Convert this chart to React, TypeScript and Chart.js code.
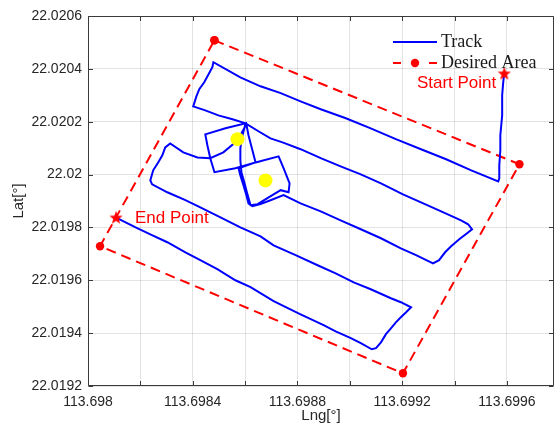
import React, { useEffect, useRef } from 'react';
import { Chart, registerables } from 'chart.js';

Chart.register(...registerables);

// ---- data (degrees) ----
const trackLng = [
  113.699590, 113.699586, 113.699582, 113.699582, 113.699575, 113.699575, 113.699571, 113.699571, 113.699567,
  113.699464, 113.699368, 113.699272, 113.699176, 113.699080, 113.698985, 113.698889, 113.698812, 113.698736, 113.698659, 113.698582, 113.698479,
  113.698475, 113.698460, 113.698444, 113.698425, 113.698414, 113.698402,
  113.698448, 113.698498, 113.698552, 113.698602, 113.698651, 113.698697, 113.698743, 113.698812, 113.698889, 113.698965, 113.699042, 113.699119, 113.699203, 113.699272, 113.699349, 113.699425, 113.699452, 113.699467,
  113.699448, 113.699418, 113.699387, 113.699364, 113.699341, 113.699318,
  113.699253, 113.699195, 113.699119, 113.699042, 113.698965, 113.698889, 113.698812, 113.698747,
  113.698697, 113.698659, 113.698628, 113.698613,
  113.698605, 113.698594, 113.698582, 113.698575,
  113.698640, 113.698728,
  113.698747, 113.698770, 113.698766, 113.698736, 113.698690, 113.698648, 113.698621,
  113.698609, 113.698598, 113.698586, 113.698582, 113.698582, 113.698586,
  113.698594, 113.698602,
  113.698525, 113.698448, 113.698456, 113.698467, 113.698483, 113.698563, 113.698640,
  113.698628, 113.698613, 113.698605,
  113.698582, 113.698563,
  113.698517, 113.698467, 113.698418, 113.698364, 113.698314,
  113.698295, 113.698284, 113.698268, 113.698249, 113.698238, 113.698245,
  113.698303, 113.698372, 113.698429, 113.698506, 113.698582, 113.698659, 113.698709, 113.698793, 113.698877, 113.698946, 113.699015, 113.699080, 113.699157, 113.699195, 113.699234,
  113.699215, 113.699195, 113.699176, 113.699157, 113.699138, 113.699119, 113.699100, 113.699084,
  113.699042, 113.699004, 113.698946, 113.698900, 113.698812, 113.698709, 113.698621, 113.698563, 113.698494, 113.698429, 113.698372, 113.698303, 113.698238, 113.698180, 113.698111,
];
const trackLat = [
  22.020383, 22.020349, 22.020300, 22.020224, 22.020149, 22.020092, 22.020035, 22.019986, 22.019974,
  22.020016, 22.020058, 22.020096, 22.020134, 22.020175, 22.020213, 22.020247, 22.020277, 22.020308, 22.020334, 22.020368, 22.020425,
  22.020406, 22.020379, 22.020349, 22.020323, 22.020296, 22.020258,
  22.020243, 22.020224, 22.020209, 22.020194, 22.020164, 22.020137, 22.020122, 22.020096, 22.020062, 22.020031, 22.020001, 22.019967, 22.019925, 22.019895, 22.019861, 22.019827, 22.019812, 22.019793,
  22.019778, 22.019755, 22.019729, 22.019706, 22.019676, 22.019664,
  22.019695, 22.019721, 22.019759, 22.019793, 22.019827, 22.019861, 22.019891, 22.019922,
  22.019903, 22.019888, 22.019880, 22.019891,
  22.019922, 22.019959, 22.019997, 22.020024,
  22.020046, 22.020069,
  22.020024, 22.019967, 22.019933, 22.019941, 22.019914, 22.019888, 22.019884,
  22.019925, 22.019967, 22.020009, 22.020054, 22.020099, 22.020130,
  22.020164, 22.020194,
  22.020175, 22.020152, 22.020111, 22.020062, 22.020009, 22.020024, 22.020046,
  22.020092, 22.020149, 22.020190,
  22.020149, 22.020122,
  22.020084, 22.020062, 22.020065, 22.020084, 22.020118,
  22.020103, 22.020073, 22.020046, 22.020016, 22.019978, 22.019963,
  22.019933, 22.019903, 22.019876, 22.019838, 22.019800, 22.019766, 22.019732, 22.019695, 22.019657, 22.019626, 22.019592, 22.019566, 22.019532, 22.019517, 22.019498,
  22.019479, 22.019460, 22.019441, 22.019418, 22.019396, 22.019365, 22.019343, 22.019339,
  22.019362, 22.019381, 22.019407, 22.019430, 22.019471, 22.019521, 22.019574, 22.019600, 22.019642, 22.019676, 22.019706, 22.019744, 22.019774, 22.019801, 22.019835,
];

const areaLng = [113.698483, 113.699648, 113.699203, 113.698046, 113.698483];
const areaLat = [22.020508, 22.020039, 22.019248, 22.019729, 22.020508];

const targetLng = [113.698571, 113.698678];
const targetLat = [22.020134, 22.019978];

const markerLng = [113.699590, 113.698107];
const markerLat = [22.020383, 22.019838];
const markerLabels = ['Start Point', 'End Point'];

const seriesNames = ['Track', 'Desired Area'];

const xTicks = [113.698, 113.6982, 113.6984, 113.6986, 113.6988, 113.699, 113.6992, 113.6994, 113.6996];
const xTickLabels = ['113.698', '', '113.6984', '', '113.6988', '', '113.6992', '', '113.6996'];
const yTicks = [22.0192, 22.0194, 22.0196, 22.0198, 22.02, 22.0202, 22.0204, 22.0206];
const yTickLabels = ['22.0192', '22.0194', '22.0196', '22.0198', '22.02', '22.0202', '22.0204', '22.0206'];

const xMin = 113.698;
const xMax = 113.69978;
const yMin = 22.0192;
const yMax = 22.0206;

const BLUE = '#0000ff';
const RED = '#ff0000';
const AXIS = '#3a3a3a';
const TEXT = '#262626';

function makeStar(size: number, color: string): HTMLCanvasElement {
  const c = document.createElement('canvas');
  c.width = size;
  c.height = size;
  const g = c.getContext('2d')!;
  g.fillStyle = color;
  g.beginPath();
  const cx = size / 2;
  const cy = size / 2 + 0.6;
  const R = size / 2;
  const r = R * 0.42;
  for (let i = 0; i < 10; i++) {
    const a = -Math.PI / 2 + (i * Math.PI) / 5;
    const rad = i % 2 === 0 ? R : r;
    g.lineTo(cx + rad * Math.cos(a), cy + rad * Math.sin(a));
  }
  g.closePath();
  g.fill();
  return c;
}

const decorPlugin = {
  id: 'decor',
  afterDatasetsDraw(chart: any) {
    const { ctx, chartArea: ca, scales } = chart;
    const xs = scales.x;
    const ys = scales.y;
    ctx.save();

    // box
    ctx.strokeStyle = AXIS;
    ctx.lineWidth = 1;
    const L = Math.round(ca.left) + 0.5;
    const R = Math.round(ca.right) - 0.5;
    const T = Math.round(ca.top) + 0.5;
    const B = Math.round(ca.bottom) - 0.5;
    ctx.beginPath();
    ctx.rect(L, T, R - L, B - T);
    ctx.stroke();

    // inward ticks
    const tl = 4.5;
    ctx.beginPath();
    xTicks.forEach((v) => {
      const px = Math.round(xs.getPixelForValue(v)) + 0.5;
      ctx.moveTo(px, B);
      ctx.lineTo(px, B - tl);
      ctx.moveTo(px, T);
      ctx.lineTo(px, T + tl);
    });
    yTicks.forEach((v) => {
      const py = Math.round(ys.getPixelForValue(v)) + 0.5;
      ctx.moveTo(L, py);
      ctx.lineTo(L + tl, py);
      ctx.moveTo(R, py);
      ctx.lineTo(R - tl, py);
    });
    ctx.stroke();

    // point annotations
    ctx.fillStyle = RED;
    ctx.font = '17px "Liberation Sans", Arial, sans-serif';
    ctx.textBaseline = 'middle';
    const sx = xs.getPixelForValue(markerLng[0]);
    const sy = ys.getPixelForValue(markerLat[0]);
    ctx.textAlign = 'right';
    ctx.fillText(markerLabels[0], sx - 8, sy + 10);
    const ex = xs.getPixelForValue(markerLng[1]);
    const ey = ys.getPixelForValue(markerLat[1]);
    ctx.textAlign = 'left';
    ctx.fillText(markerLabels[1], ex + 19, ey + 1);

    // legend
    const lx0 = ca.right - 161;
    const lx1 = lx0 + 44;
    const r1 = ca.top + 26;
    const r2 = ca.top + 47;
    ctx.lineWidth = 2;
    ctx.strokeStyle = BLUE;
    ctx.beginPath();
    ctx.moveTo(lx0, r1);
    ctx.lineTo(lx1, r1);
    ctx.stroke();
    ctx.strokeStyle = RED;
    ctx.beginPath();
    ctx.moveTo(lx0, r2);
    ctx.lineTo(lx0 + 8, r2);
    ctx.moveTo(lx1 - 8, r2);
    ctx.lineTo(lx1, r2);
    ctx.stroke();
    ctx.fillStyle = RED;
    ctx.beginPath();
    ctx.arc((lx0 + lx1) / 2, r2, 4.2, 0, Math.PI * 2);
    ctx.fill();

    ctx.fillStyle = '#1a1a1a';
    ctx.font = '18px "Liberation Serif", "DejaVu Serif", serif';
    ctx.textAlign = 'left';
    ctx.textBaseline = 'middle';
    ctx.fillText(seriesNames[0], lx1 + 4, r1);
    ctx.fillText(seriesNames[1], lx1 + 4, r2);

    ctx.restore();
  },
};

export default function App() {
  const ref = useRef<HTMLCanvasElement | null>(null);

  useEffect(() => {
    document.body.style.margin = '0';
    const canvas = ref.current!;
    const star = makeStar(14, RED);

    const chart = new Chart(canvas, {
      type: 'scatter',
      data: {
        datasets: [
          {
            label: 'markers',
            data: markerLng.map((x, i) => ({ x, y: markerLat[i] })),
            pointStyle: star as any,
            pointRadius: 7,
            showLine: false,
            order: 0,
          },
          {
            label: 'targets',
            data: targetLng.map((x, i) => ({ x, y: targetLat[i] })),
            pointStyle: 'circle',
            pointRadius: 7,
            pointBackgroundColor: '#ffff00',
            pointBorderWidth: 0,
            borderColor: '#ffff00',
            showLine: false,
            order: 1,
          },
          {
            label: seriesNames[0],
            data: trackLng.map((x, i) => ({ x, y: trackLat[i] })),
            showLine: true,
            borderColor: BLUE,
            borderWidth: 2,
            pointRadius: 0,
            tension: 0,
            order: 2,
          },
          {
            label: seriesNames[1],
            data: areaLng.map((x, i) => ({ x, y: areaLat[i] })),
            showLine: true,
            borderColor: RED,
            borderWidth: 2,
            borderDash: [10, 6],
            pointRadius: 4.2,
            pointBackgroundColor: RED,
            pointBorderWidth: 0,
            tension: 0,
            order: 3,
          },
        ],
      },
      options: {
        animation: false,
        responsive: false,
        devicePixelRatio: 1,
        events: [],
        layout: { autoPadding: false, padding: { left: 0, right: 1, top: 16, bottom: 0 } },
        plugins: {
          legend: { display: false },
          tooltip: { enabled: false },
        },
        scales: {
          x: {
            type: 'linear',
            min: xMin,
            max: xMax,
            afterBuildTicks: (scale: any) => {
              scale.ticks = xTicks.map((v) => ({ value: v }));
            },
            afterFit: (scale: any) => {
              scale.height = 46;
              scale.paddingLeft = 0;
              scale.paddingRight = 0;
            },
            ticks: {
              autoSkip: false,
              maxRotation: 0,
              padding: 8,
              color: TEXT,
              font: { family: '"Liberation Sans", Arial, sans-serif', size: 14 },
              callback: (_v: any, i: number) => xTickLabels[i],
            },
            grid: { color: 'rgba(0,0,0,0.11)', drawTicks: false, lineWidth: 1 },
            border: { display: false },
            title: {
              display: true,
              text: 'Lng[°]',
              color: TEXT,
              font: { family: '"Liberation Sans", Arial, sans-serif', size: 15 },
              padding: { top: 0, bottom: 7 },
            },
          },
          y: {
            type: 'linear',
            min: yMin,
            max: yMax,
            afterBuildTicks: (scale: any) => {
              scale.ticks = yTicks.map((v) => ({ value: v }));
            },
            afterFit: (scale: any) => {
              scale.width = 88;
              scale.paddingTop = 0;
              scale.paddingBottom = 0;
            },
            ticks: {
              autoSkip: false,
              padding: 6,
              color: TEXT,
              font: { family: '"Liberation Sans", Arial, sans-serif', size: 14 },
              callback: (_v: any, i: number) => yTickLabels[i],
            },
            grid: { color: 'rgba(0,0,0,0.11)', drawTicks: false, lineWidth: 1 },
            border: { display: false },
            title: {
              display: true,
              text: 'Lat[°]',
              color: TEXT,
              font: { family: '"Liberation Sans", Arial, sans-serif', size: 15 },
              padding: { top: 10, bottom: 0 },
            },
          },
        },
      },
      plugins: [decorPlugin],
    });

    return () => {
      chart.destroy();
    };
  }, []);

  return (
    <div style={{ position: 'absolute', left: 0, top: 0, width: 555, height: 432, background: '#fff' }}>
      <canvas ref={ref} width={555} height={432} style={{ display: 'block', width: 555, height: 432 }} />
    </div>
  );
}
